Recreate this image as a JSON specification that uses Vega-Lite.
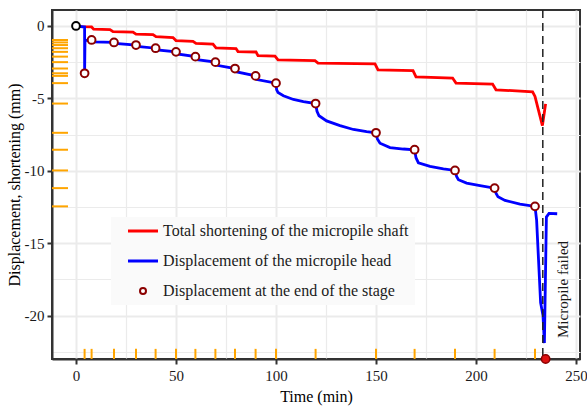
{
  "$schema": "https://vega.github.io/schema/vega-lite/v6.json",
  "width": 528,
  "height": 349,
  "autosize": {"type": "none"},
  "padding": {"left": 52, "top": 10, "right": 7, "bottom": 49},
  "background": "white",
  "config": {
    "font": "Liberation Serif",
    "view": {"stroke": "#333333", "strokeWidth": 2},
    "axis": {
      "domainColor": "#333333", "domainWidth": 2,
      "tickColor": "#333333", "tickWidth": 2, "tickSize": 5,
      "labelFont": "Liberation Serif", "labelFontSize": 15, "labelColor": "#1a1a1a", "labelFontWeight": "normal",
      "titleFont": "Liberation Serif", "titleFontSize": 16, "titleFontWeight": "normal", "titleColor": "#000000",
      "gridColor": "#ebebeb"
    },
    "legend": {
      "labelFont": "Liberation Serif", "labelFontSize": 16, "labelColor": "#1a1a1a", "labelLimit": 400
    }
  },
  "datasets": {
    "lines": [
      {"i": 1, "series": "Total shortening of the micropile shaft", "t": 0, "v": 0},
      {"i": 2, "series": "Total shortening of the micropile shaft", "t": 2, "v": -0.05},
      {"i": 3, "series": "Total shortening of the micropile shaft", "t": 7.8, "v": -0.07},
      {"i": 4, "series": "Total shortening of the micropile shaft", "t": 8.8, "v": -0.22},
      {"i": 5, "series": "Total shortening of the micropile shaft", "t": 17, "v": -0.25},
      {"i": 6, "series": "Total shortening of the micropile shaft", "t": 18.5, "v": -0.39},
      {"i": 7, "series": "Total shortening of the micropile shaft", "t": 28.5, "v": -0.43},
      {"i": 8, "series": "Total shortening of the micropile shaft", "t": 30, "v": -0.57},
      {"i": 9, "series": "Total shortening of the micropile shaft", "t": 38.5, "v": -0.6},
      {"i": 10, "series": "Total shortening of the micropile shaft", "t": 40, "v": -0.74},
      {"i": 11, "series": "Total shortening of the micropile shaft", "t": 48.5, "v": -0.8},
      {"i": 12, "series": "Total shortening of the micropile shaft", "t": 50, "v": -1.01},
      {"i": 13, "series": "Total shortening of the micropile shaft", "t": 58.5, "v": -1.06},
      {"i": 14, "series": "Total shortening of the micropile shaft", "t": 60, "v": -1.2},
      {"i": 15, "series": "Total shortening of the micropile shaft", "t": 68.5, "v": -1.26},
      {"i": 16, "series": "Total shortening of the micropile shaft", "t": 70, "v": -1.52},
      {"i": 17, "series": "Total shortening of the micropile shaft", "t": 80, "v": -1.56},
      {"i": 18, "series": "Total shortening of the micropile shaft", "t": 81, "v": -1.77},
      {"i": 19, "series": "Total shortening of the micropile shaft", "t": 90, "v": -1.8},
      {"i": 20, "series": "Total shortening of the micropile shaft", "t": 91, "v": -2.05},
      {"i": 21, "series": "Total shortening of the micropile shaft", "t": 99.5, "v": -2.08},
      {"i": 22, "series": "Total shortening of the micropile shaft", "t": 101, "v": -2.34},
      {"i": 23, "series": "Total shortening of the micropile shaft", "t": 119.5, "v": -2.4},
      {"i": 24, "series": "Total shortening of the micropile shaft", "t": 121, "v": -2.57},
      {"i": 25, "series": "Total shortening of the micropile shaft", "t": 149.5, "v": -2.62},
      {"i": 26, "series": "Total shortening of the micropile shaft", "t": 151, "v": -3.03},
      {"i": 27, "series": "Total shortening of the micropile shaft", "t": 168.5, "v": -3.08},
      {"i": 28, "series": "Total shortening of the micropile shaft", "t": 170, "v": -3.52},
      {"i": 29, "series": "Total shortening of the micropile shaft", "t": 188.3, "v": -3.6},
      {"i": 30, "series": "Total shortening of the micropile shaft", "t": 190, "v": -3.95},
      {"i": 31, "series": "Total shortening of the micropile shaft", "t": 208.3, "v": -4.02},
      {"i": 32, "series": "Total shortening of the micropile shaft", "t": 210, "v": -4.41},
      {"i": 33, "series": "Total shortening of the micropile shaft", "t": 228.3, "v": -4.55},
      {"i": 34, "series": "Total shortening of the micropile shaft", "t": 229.5, "v": -4.87},
      {"i": 35, "series": "Total shortening of the micropile shaft", "t": 231.2, "v": -5.8},
      {"i": 36, "series": "Total shortening of the micropile shaft", "t": 233.2, "v": -6.88},
      {"i": 37, "series": "Total shortening of the micropile shaft", "t": 234.8, "v": -5.38},
      {"i": 101, "series": "Displacement of the micropile head", "t": 0, "v": 0},
      {"i": 102, "series": "Displacement of the micropile head", "t": 4.3, "v": -0.08},
      {"i": 103, "series": "Displacement of the micropile head", "t": 4.3, "v": -3.27},
      {"i": 104, "series": "Displacement of the micropile head", "t": 4.5, "v": -1.0},
      {"i": 105, "series": "Displacement of the micropile head", "t": 7.8, "v": -0.99},
      {"i": 106, "series": "Displacement of the micropile head", "t": 8.5, "v": -1.1},
      {"i": 107, "series": "Displacement of the micropile head", "t": 19, "v": -1.14},
      {"i": 108, "series": "Displacement of the micropile head", "t": 19.5, "v": -1.2},
      {"i": 109, "series": "Displacement of the micropile head", "t": 30, "v": -1.32},
      {"i": 110, "series": "Displacement of the micropile head", "t": 30.5, "v": -1.42},
      {"i": 111, "series": "Displacement of the micropile head", "t": 39.8, "v": -1.54},
      {"i": 112, "series": "Displacement of the micropile head", "t": 40.5, "v": -1.65},
      {"i": 113, "series": "Displacement of the micropile head", "t": 50, "v": -1.79},
      {"i": 114, "series": "Displacement of the micropile head", "t": 50.5, "v": -1.93},
      {"i": 115, "series": "Displacement of the micropile head", "t": 59.7, "v": -2.12},
      {"i": 116, "series": "Displacement of the micropile head", "t": 60.5, "v": -2.33},
      {"i": 117, "series": "Displacement of the micropile head", "t": 69.7, "v": -2.5},
      {"i": 118, "series": "Displacement of the micropile head", "t": 70.5, "v": -2.72},
      {"i": 119, "series": "Displacement of the micropile head", "t": 79.5, "v": -2.94},
      {"i": 120, "series": "Displacement of the micropile head", "t": 80.5, "v": -3.18},
      {"i": 121, "series": "Displacement of the micropile head", "t": 89.8, "v": -3.45},
      {"i": 122, "series": "Displacement of the micropile head", "t": 90.5, "v": -3.7},
      {"i": 123, "series": "Displacement of the micropile head", "t": 100, "v": -3.95},
      {"i": 124, "series": "Displacement of the micropile head", "t": 100.3, "v": -4.4},
      {"i": 125, "series": "Displacement of the micropile head", "t": 101, "v": -4.6},
      {"i": 126, "series": "Displacement of the micropile head", "t": 103.7, "v": -4.82},
      {"i": 127, "series": "Displacement of the micropile head", "t": 108.7, "v": -5.08},
      {"i": 128, "series": "Displacement of the micropile head", "t": 113.7, "v": -5.22},
      {"i": 129, "series": "Displacement of the micropile head", "t": 119.8, "v": -5.36},
      {"i": 130, "series": "Displacement of the micropile head", "t": 120.5, "v": -5.9},
      {"i": 131, "series": "Displacement of the micropile head", "t": 121.5, "v": -6.2},
      {"i": 132, "series": "Displacement of the micropile head", "t": 125.3, "v": -6.56},
      {"i": 133, "series": "Displacement of the micropile head", "t": 132, "v": -6.88},
      {"i": 134, "series": "Displacement of the micropile head", "t": 138.7, "v": -7.15},
      {"i": 135, "series": "Displacement of the micropile head", "t": 145.3, "v": -7.3},
      {"i": 136, "series": "Displacement of the micropile head", "t": 150, "v": -7.38},
      {"i": 137, "series": "Displacement of the micropile head", "t": 150.7, "v": -7.8},
      {"i": 138, "series": "Displacement of the micropile head", "t": 152, "v": -8.1},
      {"i": 139, "series": "Displacement of the micropile head", "t": 157, "v": -8.4},
      {"i": 140, "series": "Displacement of the micropile head", "t": 163.7, "v": -8.5},
      {"i": 141, "series": "Displacement of the micropile head", "t": 169.3, "v": -8.55},
      {"i": 142, "series": "Displacement of the micropile head", "t": 170, "v": -9.1},
      {"i": 143, "series": "Displacement of the micropile head", "t": 171.2, "v": -9.45},
      {"i": 144, "series": "Displacement of the micropile head", "t": 177, "v": -9.7},
      {"i": 145, "series": "Displacement of the micropile head", "t": 183.7, "v": -9.87},
      {"i": 146, "series": "Displacement of the micropile head", "t": 189.5, "v": -9.98},
      {"i": 147, "series": "Displacement of the micropile head", "t": 190.3, "v": -10.4},
      {"i": 148, "series": "Displacement of the micropile head", "t": 191.2, "v": -10.62},
      {"i": 149, "series": "Displacement of the micropile head", "t": 195.3, "v": -10.85},
      {"i": 150, "series": "Displacement of the micropile head", "t": 202, "v": -11.02},
      {"i": 151, "series": "Displacement of the micropile head", "t": 209.3, "v": -11.2},
      {"i": 152, "series": "Displacement of the micropile head", "t": 210, "v": -11.55},
      {"i": 153, "series": "Displacement of the micropile head", "t": 211, "v": -11.8},
      {"i": 154, "series": "Displacement of the micropile head", "t": 214.5, "v": -12.05},
      {"i": 155, "series": "Displacement of the micropile head", "t": 222, "v": -12.3},
      {"i": 156, "series": "Displacement of the micropile head", "t": 229.5, "v": -12.46},
      {"i": 157, "series": "Displacement of the micropile head", "t": 230.3, "v": -13.4},
      {"i": 158, "series": "Displacement of the micropile head", "t": 232.3, "v": -19.1},
      {"i": 159, "series": "Displacement of the micropile head", "t": 233.5, "v": -20},
      {"i": 160, "series": "Displacement of the micropile head", "t": 234.2, "v": -21.9},
      {"i": 161, "series": "Displacement of the micropile head", "t": 235.2, "v": -13.2},
      {"i": 162, "series": "Displacement of the micropile head", "t": 236.5, "v": -12.95},
      {"i": 163, "series": "Displacement of the micropile head", "t": 240.6, "v": -12.97}
    ],
    "stages": [
      {"series": "Displacement at the end of the stage", "t": 4.3, "v": -3.27},
      {"series": "Displacement at the end of the stage", "t": 7.8, "v": -0.97},
      {"series": "Displacement at the end of the stage", "t": 19, "v": -1.14},
      {"series": "Displacement at the end of the stage", "t": 30, "v": -1.32},
      {"series": "Displacement at the end of the stage", "t": 39.8, "v": -1.54},
      {"series": "Displacement at the end of the stage", "t": 50, "v": -1.79},
      {"series": "Displacement at the end of the stage", "t": 59.7, "v": -2.12},
      {"series": "Displacement at the end of the stage", "t": 69.7, "v": -2.5},
      {"series": "Displacement at the end of the stage", "t": 79.5, "v": -2.94},
      {"series": "Displacement at the end of the stage", "t": 89.8, "v": -3.45},
      {"series": "Displacement at the end of the stage", "t": 100, "v": -3.95},
      {"series": "Displacement at the end of the stage", "t": 119.8, "v": -5.36},
      {"series": "Displacement at the end of the stage", "t": 150, "v": -7.38},
      {"series": "Displacement at the end of the stage", "t": 169.3, "v": -8.55},
      {"series": "Displacement at the end of the stage", "t": 189.5, "v": -9.98},
      {"series": "Displacement at the end of the stage", "t": 209.3, "v": -11.2},
      {"series": "Displacement at the end of the stage", "t": 229.5, "v": -12.46}
    ],
    "start": [{"t": 0, "v": 0}],
    "failure": [{"t": 234.8, "v": -23, "label": "Micropile failed"}]
  },
  "encoding": {
    "x": {
      "field": "t", "type": "quantitative",
      "scale": {"domain": [-12, 252], "nice": false, "zero": false},
      "axis": {
        "title": "Time (min)",
        "values": [0, 25, 50, 75, 100, 125, 150, 175, 200, 225, 250],
        "labelExpr": "datum.value % 50 === 0 ? '' + datum.value : ''",
        "labelFont": "Liberation Serif", "labelFontSize": 15, "labelFontWeight": "normal",
        "titleFont": "Liberation Serif", "titleFontSize": 16, "titleFontWeight": "normal",
        "tickOpacity": {"condition": {"test": "datum.value % 50 !== 0", "value": 0}, "value": 1},
        "gridWidth": {"condition": {"test": "datum.value % 50 !== 0", "value": 1.2}, "value": 2},
        "labelPadding": 4,
        "titlePadding": 5
      }
    },
    "y": {
      "field": "v", "type": "quantitative",
      "scale": {"domain": [-23, 1.1], "nice": false, "zero": false},
      "axis": {
        "title": "Displacement, shortening (mm)",
        "values": [0, -2.5, -5, -7.5, -10, -12.5, -15, -17.5, -20, -22.5],
        "labelExpr": "datum.value % 5 === 0 ? '' + datum.value : ''",
        "labelFont": "Liberation Serif", "labelFontSize": 15, "labelFontWeight": "normal",
        "titleFont": "Liberation Serif", "titleFontSize": 16, "titleFontWeight": "normal",
        "tickOpacity": {"condition": {"test": "datum.value % 5 !== 0", "value": 0}, "value": 1},
        "gridWidth": {"condition": {"test": "datum.value % 5 !== 0", "value": 1.2}, "value": 2},
        "labelPadding": 3,
        "titlePadding": 2
      }
    }
  },
  "layer": [
    {
      "data": {"name": "stages"},
      "mark": {"type": "rule", "color": "#FFA500", "strokeWidth": 2},
      "encoding": {
        "x": {"datum": -12},
        "x2": {"datum": -4}
      }
    },
    {
      "data": {"name": "stages"},
      "mark": {"type": "rule", "color": "#FFA500", "strokeWidth": 2},
      "encoding": {
        "y": {"datum": -23},
        "y2": {"datum": -22.3}
      }
    },
    {
      "data": {"name": "lines"},
      "mark": {"type": "line", "strokeWidth": 2.8},
      "encoding": {
        "order": {"field": "i", "type": "quantitative"},
        "color": {
          "field": "series", "type": "nominal",
          "scale": {
            "domain": ["Total shortening of the micropile shaft", "Displacement of the micropile head", "Displacement at the end of the stage"],
            "range": ["#ff0000", "#0000ff", "#8b0000"]
          },
          "legend": {
            "title": null,
            "orient": "none",
            "legendX": 59,
            "legendY": 207,
            "fillColor": "#fafafa",
            "padding": 6,
            "symbolOffset": 18,
            "rowPadding": 14,
            "labelOffset": 12,
            "encode": {
              "symbols": {
                "update": {
                  "fill": {"value": "white"},
                  "strokeWidth": {"signal": "datum.value === 'Displacement at the end of the stage' ? 2 : 3"},
                  "size": {"signal": "datum.value === 'Displacement at the end of the stage' ? 36 : 900"}
                }
              }
            }
          }
        }
      }
    },
    {
      "data": {"name": "failure"},
      "mark": {"type": "rule", "color": "#222222", "strokeWidth": 1.5, "strokeDash": [8, 5]},
      "encoding": {"x": {"datum": 233.4}, "y": {"datum": 1.1}, "y2": {"datum": -23}}
    },
    {
      "data": {"name": "stages"},
      "mark": {"type": "point", "filled": false, "fill": "white", "fillOpacity": 1, "opacity": 1, "strokeWidth": 2, "size": 60},
      "encoding": {
        "color": {"field": "series", "type": "nominal"},
        "shape": {
          "field": "series", "type": "nominal",
          "scale": {
            "domain": ["Total shortening of the micropile shaft", "Displacement of the micropile head", "Displacement at the end of the stage"],
            "range": ["stroke", "stroke", "circle"]
          }
        }
      }
    },
    {
      "data": {"name": "start"},
      "mark": {"type": "point", "shape": "circle", "filled": false, "fill": "white", "fillOpacity": 1, "opacity": 1, "stroke": "#000000", "strokeWidth": 2, "size": 60}
    },
    {
      "data": {"name": "failure"},
      "mark": {"type": "point", "shape": "circle", "filled": true, "fill": "#dd1111", "opacity": 1, "stroke": "#8b0000", "strokeWidth": 1.5, "size": 70}
    },
    {
      "data": {"name": "failure"},
      "mark": {"type": "text", "angle": 270, "font": "Liberation Serif", "fontSize": 15, "color": "#1a1a1a", "align": "center", "baseline": "middle"},
      "encoding": {
        "x": {"datum": 243.3},
        "y": {"datum": -18.2},
        "text": {"field": "label"}
      }
    }
  ]
}
